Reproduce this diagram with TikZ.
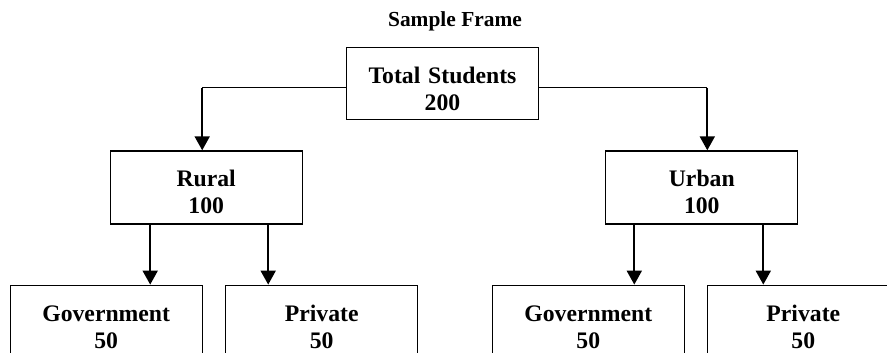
\documentclass[tikz,border=0pt]{standalone}
\usepackage{fontspec}
\setmainfont{Liberation Serif}
\usetikzlibrary{positioning,arrows.meta}

\tikzset{
	box/.style={draw,line width=1.3pt,inner sep=0pt,minimum width=192pt,minimum height=73pt,
		text width=184pt,align=center,text height=26pt,font=\fontsize{23.7}{27}\selectfont\bfseries},
	link/.style={line width=1.5pt},
	arrow/.style={line width=2pt,-{Triangle[length=14pt,width=15pt]}}
}

\begin{document}
\begin{tikzpicture}[x=1pt,y=1pt]
	\useasboundingbox (0,0) rectangle (887,-353);

	\node[anchor=base,font=\fontsize{21.4}{25}\selectfont\bfseries] (title) at (455,-27) {Sample Frame};
	\node[box,anchor=north,minimum height=72pt] (total) at (442.5,-47) {Total Students\\200};
	\node[box,below left=30pt and 43pt of total] (rural) {Rural\\100};
	\node[box,below right=30pt and 66pt of total] (urban) {Urban\\100};
	\node[box,below=60pt of rural.south,xshift=-100pt] (rgov) {Government\\50};
	\node[box,below=60pt of rural.south,xshift=115.5pt] (rpriv) {Private\\50};
	\node[box,below=60pt of urban.south,xshift=-113.5pt] (ugov) {Government\\50};
	\node[box,below=60pt of urban.south,xshift=101.5pt] (upriv) {Private\\50};

	% total to rural / urban
	\coordinate[yshift=-4pt] (tl) at (total.west);
	\coordinate[yshift=-4pt] (tr) at (total.east);
	\coordinate[xshift=-4pt] (rtop) at (rural.north);
	\coordinate[xshift=5.5pt] (utop) at (urban.north);
	\draw[link] (tl) -- (tl -| rtop);
	\draw[arrow] (tl -| rtop) -- (rtop);
	\draw[link] (tr) -- (tr -| utop);
	\draw[arrow] (tr -| utop) -- (utop);

	% rural / urban to schools
	\coordinate[xshift=-56pt] (r1) at (rural.south);
	\coordinate[xshift=62pt] (r2) at (rural.south);
	\coordinate[xshift=-67.5pt] (u1) at (urban.south);
	\coordinate[xshift=61.5pt] (u2) at (urban.south);
	\draw[arrow] (r1) -- (r1 |- rgov.north);
	\draw[arrow] (r2) -- (r2 |- rpriv.north);
	\draw[arrow] (u1) -- (u1 |- ugov.north);
	\draw[arrow] (u2) -- (u2 |- upriv.north);
\end{tikzpicture}
\end{document}
